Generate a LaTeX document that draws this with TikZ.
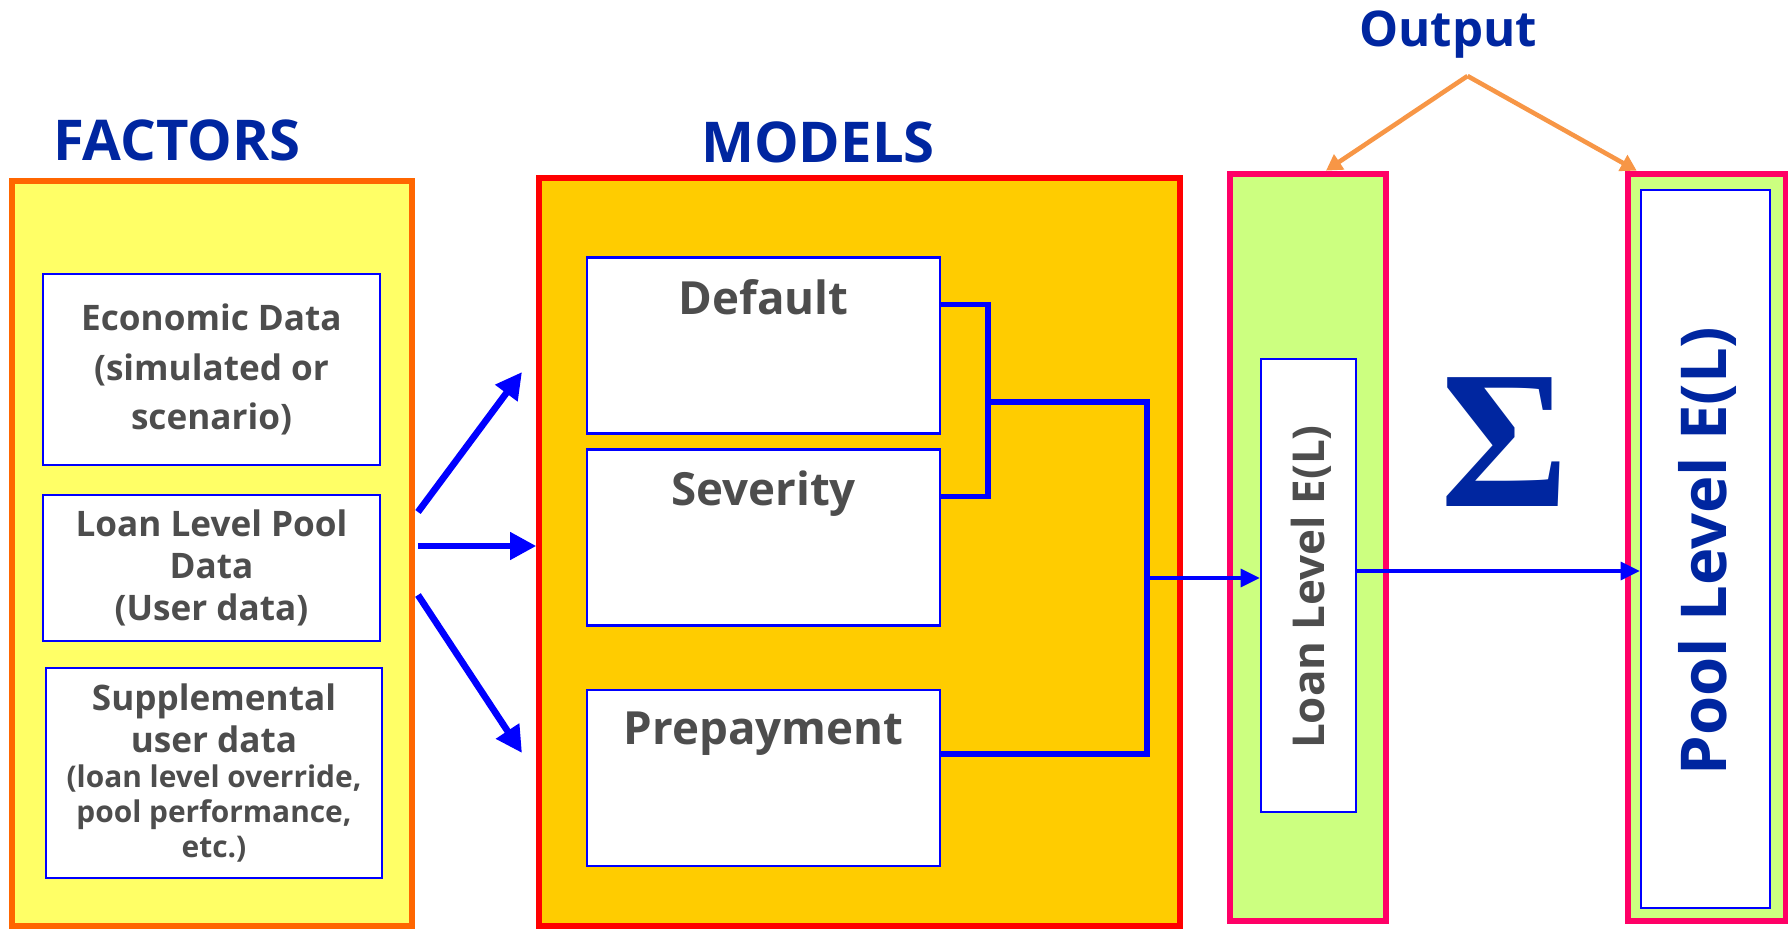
\documentclass[tikz,border=0pt]{standalone}
\usepackage{fontspec}
\setmainfont{Open Sans}
\usepackage{tikz}
\usetikzlibrary{arrows.meta, positioning, calc}
\definecolor{titleblue}{RGB}{0, 38, 160}
\definecolor{textgray}{RGB}{77, 77, 77}
\definecolor{boxblue}{RGB}{0, 0, 255}
\definecolor{factorfill}{RGB}{255, 255, 102}
\definecolor{factorline}{RGB}{255, 102, 0}
\definecolor{modelfill}{RGB}{255, 204, 0}
\definecolor{levelgreen}{RGB}{204, 255, 128}
\definecolor{levelred}{RGB}{255, 0, 102}
\definecolor{outorange}{RGB}{247, 150, 70}

\begin{document}
\begin{tikzpicture}[
  titletext/.style={font=\bfseries\fontsize{16}{16}\selectfont, text=titleblue},
  databox/.style={draw=boxblue, line width=0.6pt, fill=white, align=center, text=textgray, minimum width=3.37cm},
  modelbox/.style={draw=boxblue, line width=0.6pt, fill=white, minimum width=3.53cm, minimum height=1.76cm},
  modeltext/.style={font=\bfseries\fontsize{13}{13}\selectfont, text=textgray, inner sep=0pt, anchor=north, yshift=-0.22cm},
  link/.style={draw=boxblue, line width=1.5pt},
  bigarrow/.style={draw=boxblue, line width=1.9pt, -{Triangle[length=7.5pt,width=7.5pt]}},
  outarrow/.style={draw=outorange, line width=1.3pt, -{Triangle[length=4.5pt,width=5pt]}},
  levelbox/.style={draw=levelred, line width=1.9pt, fill=levelgreen, minimum width=1.56cm, minimum height=7.47cm}
]
  \useasboundingbox (0,0) rectangle (17.88,9.29);
  % factors column
  \node[draw=factorline, line width=1.7pt, fill=factorfill, minimum width=4.0cm, minimum height=7.45cm] (factors) at (2.12,3.755) {};
  \node[titletext] (factorstitle) at (1.77,7.89) {FACTORS};
  \node[databox, minimum height=1.91cm, font=\bfseries\fontsize{10}{14.2}\selectfont] (econ) at (2.115,5.595) {Economic Data\\(simulated or\\scenario)};
  \node[databox, minimum height=1.46cm, font=\bfseries\fontsize{10}{12}\selectfont] (pooldata) at (2.115,3.61) {Loan Level Pool\\Data\\(User data)};
  \node[databox, minimum width=3.36cm, minimum height=2.10cm, font=\bfseries\fontsize{10}{12}\selectfont] (suppl) at (2.14,1.56) {Supplemental\\user data\\[-2pt]{\fontsize{8.5}{10}\selectfont (loan level override,}\\[-2pt]{\fontsize{8.5}{10}\selectfont pool performance,}\\[-2pt]{\fontsize{8.5}{10}\selectfont etc.)}};
  % models column
  \node[draw=red, line width=1.5pt, fill=modelfill, minimum width=6.41cm, minimum height=7.48cm] (models) at (8.595,3.77) {};
  \node[titletext] (modelstitle) at (8.18,7.87) {MODELS};
  \node[modelbox, label={[modeltext]north:Default}] (default) at (7.635,5.835) {};
  \node[modelbox, label={[modeltext]north:Severity}] (severity) at (7.635,3.915) {};
  \node[modelbox, label={[modeltext]north:Prepayment}] (prepay) at (7.635,1.51) {};
  % factors to models
  \coordinate (tipA) at (5.22,5.57);
  \coordinate (tipC) at (5.22,1.76);
  \coordinate (midstart) at ($(factors.east)+(0.03,0.075)$);
  \draw[bigarrow] ($(factors.east)+(0.03,0.415)$) -- (tipA);
  \draw[bigarrow] (midstart) -- (midstart -| models.west);
  \draw[bigarrow] ($(factors.east)+(0.03,-0.415)$) -- (tipC);
  % output columns
  \node[levelbox] (loanout) at (13.08,3.815) {};
  \node[levelbox, minimum width=1.58cm] (poolout) at (17.07,3.815) {};
  \node[draw=boxblue, line width=0.6pt, fill=white, minimum width=0.95cm, minimum height=4.53cm] (loanbox) at (13.085,3.435) {};
  \node[rotate=90, text=textgray, font=\bfseries\fontsize{12.5}{12.5}\selectfont] (loantext) at (13.11,3.42) {Loan Level E(L)};
  \node[draw=boxblue, line width=0.6pt, fill=white, minimum width=1.29cm, minimum height=7.18cm] (poolbox) at (17.055,3.8) {};
  \node[rotate=90, text=titleblue, font=\bfseries\fontsize{18}{18}\selectfont] (pooltext) at (17.07,3.78) {Pool Level E(L)};
  \node[text=titleblue, font=\fontspec{Liberation Serif}\bfseries\fontsize{56}{56}\selectfont] (sigma) at (15.05,4.87) {Σ};
  \node[titletext, font=\bfseries\fontsize{14}{14}\selectfont] (outputtitle) at (14.48,8.94) {Output};
  % model links
  \coordinate (joinA) at (9.88,5.27);
  \coordinate (joinB) at (11.47,5.27);
  \coordinate (tap) at (11.47,3.51);
  \coordinate (sumrow) at ($(loanbox.east)+(0,0.145)$);
  \draw[link] ($(default.north east)+(0,-0.48)$) -| (joinA) |- ($(severity.north east)+(0,-0.48)$);
  \draw[link] (joinA) -- (joinB) |- ($(prepay.east)+(0,0.24)$);
  \draw[link, line width=1.2pt, -{Triangle[length=5.5pt,width=5pt]}] (tap) -- (tap -| loanbox.west);
  \draw[link, line width=1.2pt, -{Triangle[length=5.5pt,width=5pt]}] (sumrow) -- (sumrow -| poolbox.west);
  % output arrows
  \coordinate (apex) at (14.675,8.53);
  \draw[outarrow] (apex) -- ($(loanout.north)+(0.18,0)$);
  \draw[outarrow] (apex) -- ($(poolout.north west)+(0.12,0)$);
\end{tikzpicture}
\end{document}
